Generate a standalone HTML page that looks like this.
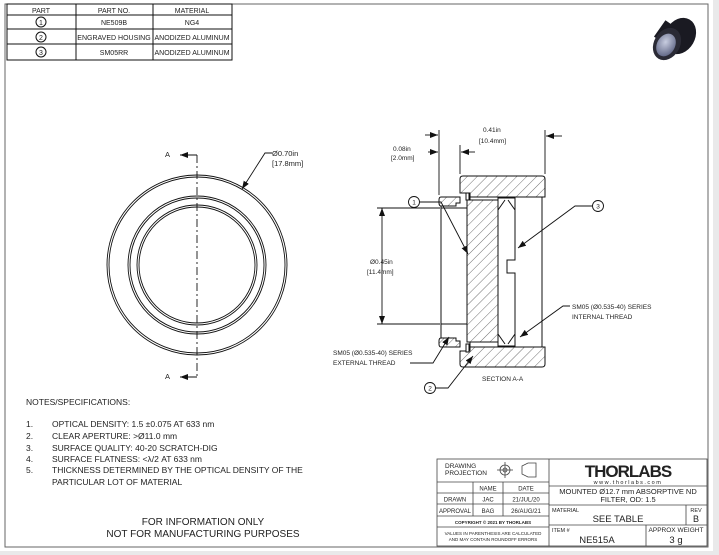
<!DOCTYPE html>
<html><head><meta charset="utf-8"><style>
html,body{margin:0;padding:0;background:#e9e9ea;}
svg{display:block;font-family:"Liberation Sans",sans-serif;}
</style></head><body>
<svg width="719" height="555" viewBox="0 0 719 555" xmlns="http://www.w3.org/2000/svg">
<defs>
<pattern id="h" patternUnits="userSpaceOnUse" width="7" height="7" patternTransform="rotate(45)">
<rect width="7" height="7" fill="#fff"/><line x1="0" y1="0" x2="0" y2="7" stroke="#333" stroke-width="0.7"/></pattern>
<marker id="ar" markerWidth="8" markerHeight="6" refX="8" refY="3" orient="auto" markerUnits="userSpaceOnUse"><path d="M0,0 L8,3 L0,6z" fill="#111"/></marker>
<radialGradient id="lens" cx="0.4" cy="0.4" r="0.7"><stop offset="0" stop-color="#c8cde0"/><stop offset="1" stop-color="#5a6080"/></radialGradient>
</defs>
<rect x="0" y="0" width="713" height="551" fill="#fff"/>
<rect x="5" y="4" width="703" height="543" fill="none" stroke="#666" stroke-width="1"/>
<!-- parts table -->
<g stroke="#111" stroke-width="1" fill="none">
<rect x="7" y="4" width="225" height="56"/>
<line x1="7" y1="15" x2="232" y2="15"/><line x1="7" y1="29" x2="232" y2="29"/><line x1="7" y1="44" x2="232" y2="44"/>
<line x1="76" y1="4" x2="76" y2="60"/><line x1="153" y1="4" x2="153" y2="60"/>
<circle cx="41" cy="22" r="5"/><circle cx="41" cy="37" r="5"/><circle cx="41" cy="52" r="5"/>
</g>
<g font-size="7" fill="#222" text-anchor="middle">
<text x="41" y="13">PART</text><text x="114" y="13">PART NO.</text><text x="192" y="13">MATERIAL</text>
<text x="41" y="25">1</text><text x="41" y="40">2</text><text x="41" y="55">3</text>
<text x="114" y="25">NE509B</text><text x="192" y="25">NG4</text>
<text x="114" y="40">ENGRAVED HOUSING</text><text x="192" y="40">ANODIZED ALUMINUM</text>
<text x="114" y="55">SM05RR</text><text x="192" y="55">ANODIZED ALUMINUM</text>
</g>
<!-- photo -->
<g>
<ellipse cx="680" cy="36" rx="15" ry="19" fill="#1a1a22" transform="rotate(30 680 36)"/>
<rect x="662" y="22" width="20" height="30" fill="#1a1a22" transform="rotate(-55 672 37)"/>
<ellipse cx="667" cy="44" rx="13" ry="17" fill="#2a2a35" transform="rotate(30 667 44)"/>
<ellipse cx="666" cy="45" rx="9" ry="12" fill="url(#lens)" transform="rotate(30 666 45)"/>
</g>
<!-- front view -->
<g fill="none" stroke="#111" stroke-width="0.9">
<circle cx="197" cy="265" r="90"/><circle cx="197" cy="265" r="88"/>
<circle cx="197" cy="265" r="69"/><circle cx="197" cy="265" r="67"/>
<circle cx="197" cy="265" r="60"/><circle cx="197" cy="265" r="58"/>
<line x1="197" y1="155" x2="197" y2="377" stroke-dasharray="8,3,2,3"/>
<line x1="197" y1="155" x2="180" y2="155" marker-end="url(#ar)"/>
<line x1="197" y1="377" x2="180" y2="377" marker-end="url(#ar)"/>
<polyline points="272,153 265,153 242,189" marker-end="url(#ar)"/>
</g>
<g font-size="7.5" fill="#222"><text x="165" y="157">A</text><text x="165" y="379">A</text>
<text x="272" y="156">Ø0.70in</text><text x="272" y="166">[17.8mm]</text></g>
<!-- section view -->
<g stroke="#111" stroke-width="1">
<path d="M463,176 H542 Q545,176 545,179 V197 H470 V193 H460 V179 Q460,176 463,176Z" fill="url(#h)"/>
<path d="M460,351 H470 V347 H545 V364 Q545,367 542,367 H463 Q460,367 460,364Z" fill="url(#h)"/>
<path d="M441,197 H460 V203 H456 V206 H441 Q439,206 439,203 V200 Q439,197 441,197Z" fill="url(#h)"/>
<path d="M441,347 H460 V341 H456 V338 H441 Q439,338 439,341 V344 Q439,347 441,347Z" fill="url(#h)"/>
<line x1="441" y1="206" x2="441" y2="338"/>
<line x1="441" y1="208" x2="467" y2="208"/><line x1="441" y1="324" x2="467" y2="324"/>
<rect x="466" y="193" width="3" height="7" fill="#fff"/><rect x="466" y="344" width="3" height="8" fill="#fff"/>
<rect x="467" y="200" width="31" height="142" fill="url(#h)"/>
<line x1="470" y1="197" x2="470" y2="200"/><line x1="470" y1="342" x2="470" y2="347"/>
<path d="M498,198 H515 V260 H507 V273 H515 V346 H498Z" fill="#fff"/>
<path d="M498,210 L505,200 M498,334 L505,344 M515,210 L508,200 M515,334 L508,344" fill="none"/>
<line x1="542" y1="197" x2="542" y2="347"/>
</g>
<g fill="none" stroke="#111" stroke-width="0.9">
<line x1="382" y1="208" x2="382" y2="324"/>
<line x1="382" y1="215" x2="382" y2="208" marker-end="url(#ar)"/>
<line x1="382" y1="317" x2="382" y2="324" marker-end="url(#ar)"/>
<line x1="377" y1="208" x2="440" y2="208"/><line x1="377" y1="324" x2="440" y2="324"/>
<line x1="439" y1="130" x2="439" y2="195"/><line x1="460" y1="145" x2="460" y2="174"/><line x1="545" y1="130" x2="545" y2="174"/>
<line x1="425" y1="135" x2="438" y2="135" marker-end="url(#ar)"/>
<line x1="428" y1="152" x2="438" y2="152" marker-end="url(#ar)"/>
<line x1="475" y1="152" x2="461" y2="152" marker-end="url(#ar)"/>
<line x1="562" y1="136" x2="546" y2="136" marker-end="url(#ar)"/>
<circle cx="414" cy="202" r="5.5"/><polyline points="420,202 441,202 468,254" marker-end="url(#ar)"/>
<circle cx="598" cy="206" r="5.5"/><polyline points="592,206 575,206 518,248" marker-end="url(#ar)"/>
<circle cx="430" cy="388" r="5.5"/><polyline points="436,388 448,388 473,356" marker-end="url(#ar)"/>
<polyline points="410,363 433,363 449,337" marker-end="url(#ar)"/>
<polyline points="570,306 563,306 520,337" marker-end="url(#ar)"/>
</g>
<g font-size="6.5" fill="#222">
<text x="414" y="204.5" text-anchor="middle">1</text><text x="598" y="208.5" text-anchor="middle">3</text><text x="430" y="390.5" text-anchor="middle">2</text>
<text x="393" y="151">0.08in</text><text x="391" y="160">[2.0mm]</text>
<text x="483" y="132">0.41in</text><text x="479" y="143">[10.4mm]</text>
<text x="370" y="264">Ø0.45in</text><text x="367" y="274">[11.4mm]</text>
<text x="333" y="355">SM05 (Ø0.535-40) SERIES</text><text x="333" y="365">EXTERNAL THREAD</text>
<text x="572" y="309">SM05 (Ø0.535-40) SERIES</text><text x="572" y="319">INTERNAL THREAD</text>
<text x="482" y="381">SECTION A-A</text>
</g>
<!-- notes -->
<g font-size="8.5" fill="#222">
<text x="26" y="405">NOTES/SPECIFICATIONS:</text>
<text x="26" y="427">1.</text><text x="52" y="427">OPTICAL DENSITY: 1.5 ±0.075 AT 633 nm</text>
<text x="26" y="439">2.</text><text x="52" y="439">CLEAR APERTURE: &gt;Ø11.0 mm</text>
<text x="26" y="451">3.</text><text x="52" y="451">SURFACE QUALITY: 40-20 SCRATCH-DIG</text>
<text x="26" y="462">4.</text><text x="52" y="462">SURFACE FLATNESS: &lt;λ/2 AT 633 nm</text>
<text x="26" y="473">5.</text><text x="52" y="473">THICKNESS DETERMINED BY THE OPTICAL DENSITY OF THE</text>
<text x="52" y="485">PARTICULAR LOT OF MATERIAL</text>
<text x="203" y="525" text-anchor="middle" font-size="10">FOR INFORMATION ONLY</text>
<text x="203" y="537" text-anchor="middle" font-size="10">NOT FOR MANUFACTURING PURPOSES</text>
</g>
<!-- title block -->
<g stroke="#444" stroke-width="0.8" fill="none">
<rect x="437" y="459" width="270" height="87"/>
<line x1="549" y1="459" x2="549" y2="546"/>
<line x1="437" y1="482" x2="549" y2="482"/><line x1="437" y1="493" x2="549" y2="493"/>
<line x1="437" y1="504" x2="549" y2="504"/><line x1="437" y1="516" x2="549" y2="516"/><line x1="437" y1="527" x2="549" y2="527"/>
<line x1="473" y1="482" x2="473" y2="516"/><line x1="503" y1="482" x2="503" y2="516"/>
<line x1="549" y1="486" x2="707" y2="486"/><line x1="549" y1="505" x2="707" y2="505"/><line x1="549" y1="525" x2="707" y2="525"/>
<line x1="686" y1="505" x2="686" y2="525"/><line x1="646" y1="525" x2="646" y2="546"/>
<circle cx="505" cy="470" r="5"/><circle cx="505" cy="470" r="2"/>
<line x1="497" y1="470" x2="513" y2="470"/><line x1="505" y1="462" x2="505" y2="478"/>
<path d="M522,466 L528,463 H536 V477 H528 L522,474Z"/>
</g>
<g fill="#222" font-size="6">
<text x="445" y="468" font-size="6.5">DRAWING</text><text x="445" y="475" font-size="6.5">PROJECTION</text>
<text x="488" y="490.5" text-anchor="middle">NAME</text><text x="526" y="490.5" text-anchor="middle">DATE</text>
<text x="455" y="501.5" text-anchor="middle">DRAWN</text><text x="488" y="501.5" text-anchor="middle">JAC</text><text x="526" y="501.5" text-anchor="middle">21/JUL/20</text>
<text x="455" y="513" text-anchor="middle">APPROVAL</text><text x="488" y="513" text-anchor="middle">BAG</text><text x="526" y="513" text-anchor="middle">26/AUG/21</text>
<text x="493" y="524" text-anchor="middle" font-size="4.5" font-weight="bold">COPYRIGHT © 2021 BY THORLABS</text>
<text x="493" y="535" text-anchor="middle" font-size="4.5">VALUES IN PARENTHESIS ARE CALCULATED</text>
<text x="493" y="541" text-anchor="middle" font-size="4.5">AND MAY CONTAIN ROUNDOFF ERRORS</text>
<text x="628" y="477" text-anchor="middle" font-size="17" font-weight="bold" letter-spacing="-1">THORLABS</text>
<text x="628" y="484" text-anchor="middle" font-size="5.5" letter-spacing="1.5">www.thorlabs.com</text>
<text x="628" y="494" text-anchor="middle" font-size="7.5">MOUNTED Ø12.7 mm ABSORPTIVE ND</text>
<text x="628" y="502" text-anchor="middle" font-size="7.5">FILTER, OD: 1.5</text>
<text x="552" y="512" font-size="5.5">MATERIAL</text>
<text x="618" y="522" text-anchor="middle" font-size="9.5">SEE TABLE</text>
<text x="696" y="512" text-anchor="middle" font-size="5.5">REV</text>
<text x="696" y="522" text-anchor="middle" font-size="9">B</text>
<text x="552" y="532" font-size="5.5">ITEM #</text>
<text x="597" y="543" text-anchor="middle" font-size="9.5">NE515A</text>
<text x="676" y="532" text-anchor="middle" font-size="6.5">APPROX WEIGHT</text>
<text x="676" y="543" text-anchor="middle" font-size="9.5">3 g</text>
</g>
</svg>
</body></html>
